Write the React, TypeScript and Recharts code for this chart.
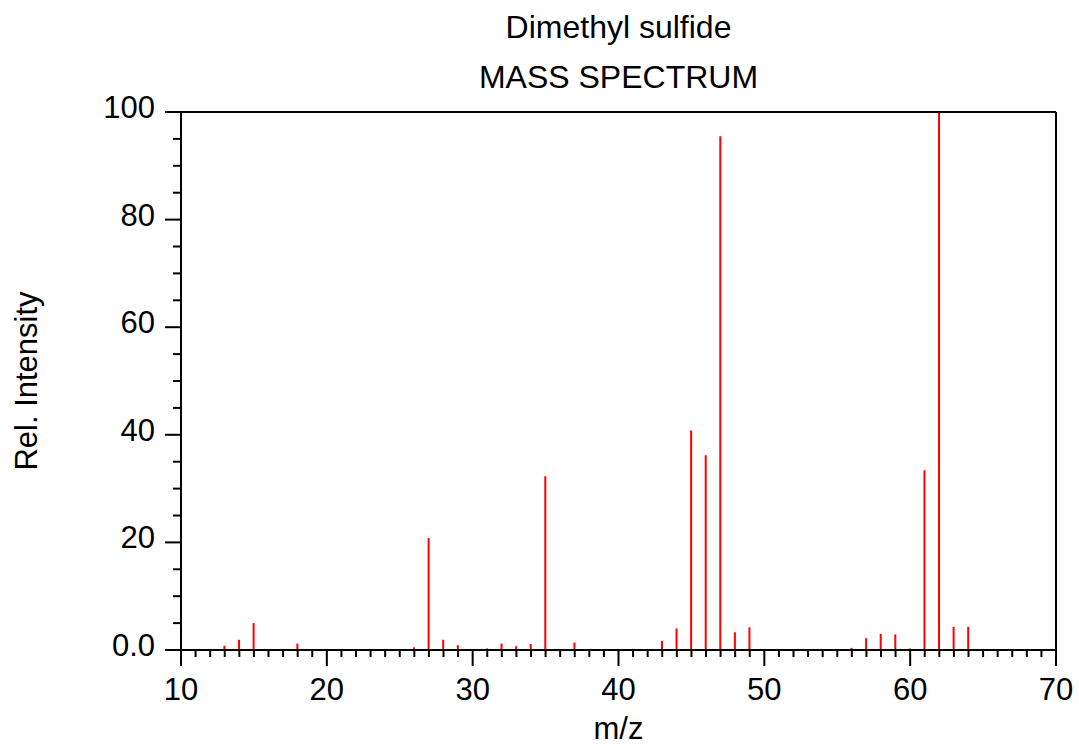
import React from "react";
import {
  Bar,
  BarChart,
  Label,
  ReferenceLine,
  XAxis,
  YAxis,
} from "recharts";

// peak positions (m/z) and relative intensities
const mzValues = [
  12, 13, 14, 15, 17, 18, 26, 27, 28, 29, 31, 32, 33, 34, 35, 36, 37, 39, 41,
  42, 43, 44, 45, 46, 47, 48, 49, 56, 57, 58, 59, 60, 61, 62, 63, 64, 65,
];
const intensities = [
  0.2, 0.8, 1.9, 5.0, 0.2, 1.2, 0.5, 20.8, 1.9, 0.9, 0.3, 1.2, 0.7, 1.1, 32.3,
  0.2, 1.4, 0.1, 0.2, 0.2, 1.7, 4.0, 40.8, 36.2, 95.5, 3.3, 4.2, 0.4, 2.2, 3.0,
  2.9, 0.3, 33.4, 100, 4.3, 4.3, 0.1,
];

// axis ticks: minor every 1 m/z and every 5 % intensity
const xTicks = Array.from({ length: 61 }, (_, i) => 10 + i);
const yTicks = Array.from({ length: 21 }, (_, i) => i * 5);

const title = "Dimethyl sulfide";
const subtitle = "MASS SPECTRUM";

const FONT = '"Liberation Sans", Arial, sans-serif';
const TICK_FONT = 31;

const data = mzValues.map((mz, i) => ({ mz, value: intensities[i] }));

function XTick({ x, y, payload }: any) {
  const v = payload.value as number;
  const major = v % 10 === 0;
  return (
    <g>
      <line x1={x} x2={x} y1={y} y2={y + (major ? 16 : 7)} stroke="#000" strokeWidth={2} />
      {major && (
        <text x={x} y={y + 50} textAnchor="middle" fontSize={TICK_FONT} fontFamily={FONT} fill="#000">
          {v}
        </text>
      )}
    </g>
  );
}

function YTick({ x, y, payload }: any) {
  const v = payload.value as number;
  const major = v % 20 === 0;
  return (
    <g>
      <line x1={x - (major ? 16 : 8)} x2={x} y1={y} y2={y} stroke="#000" strokeWidth={2} />
      {major && (
        <text x={x - 26} y={y + 6} textAnchor="end" fontSize={TICK_FONT} fontFamily={FONT} fill="#000">
          {v === 0 ? "0.0" : v}
        </text>
      )}
    </g>
  );
}

const titleStyle: React.CSSProperties = {
  position: "absolute",
  left: 181,
  width: 875,
  textAlign: "center",
  fontFamily: FONT,
  fontSize: 32,
  lineHeight: "37px",
  color: "#000",
  whiteSpace: "nowrap",
};

export default function App() {
  return (
    <div style={{ position: "absolute", left: 0, top: 0, width: 1079, height: 747, background: "#fff" }}>
      <div style={{ ...titleStyle, top: 9 }}>{title}</div>
      <div style={{ ...titleStyle, top: 59 }}>{subtitle}</div>
      <BarChart
        width={1079}
        height={747}
        data={data}
        margin={{ top: 112, right: 23, left: 0, bottom: 47 }}
        barSize={2}
      >
        <XAxis
          dataKey="mz"
          type="number"
          domain={[10, 70]}
          ticks={xTicks}
          interval={0}
          allowDataOverflow
          height={50}
          tickSize={0}
          tickMargin={0}
          tick={<XTick />}
          axisLine={{ stroke: "#000", strokeWidth: 2 }}
        >
          <Label
            content={({ viewBox }: any) => (
              <text
                x={viewBox.x + viewBox.width / 2}
                y={viewBox.y + 89}
                textAnchor="middle"
                fontSize={31}
                fontFamily={FONT}
                fill="#000"
              >
                m/z
              </text>
            )}
          />
        </XAxis>
        <YAxis
          type="number"
          domain={[0, 100]}
          ticks={yTicks}
          interval={0}
          allowDataOverflow
          width={181}
          tickSize={0}
          tickMargin={0}
          tick={<YTick />}
          axisLine={{ stroke: "#000", strokeWidth: 2 }}
        >
          <Label
            content={({ viewBox }: any) => {
              const cy = viewBox.y + viewBox.height / 2;
              return (
                <text
                  x={37}
                  y={cy}
                  transform={`rotate(-90, 37, ${cy})`}
                  textAnchor="middle"
                  fontSize={31}
                  fontFamily={FONT}
                  fill="#000"
                >
                  Rel. Intensity
                </text>
              );
            }}
          />
        </YAxis>
        <ReferenceLine y={100} stroke="#000" strokeWidth={2} />
        <ReferenceLine x={70} stroke="#000" strokeWidth={2} />
        <Bar dataKey="value" fill="#ff0000" isAnimationActive={false} />
      </BarChart>
    </div>
  );
}
